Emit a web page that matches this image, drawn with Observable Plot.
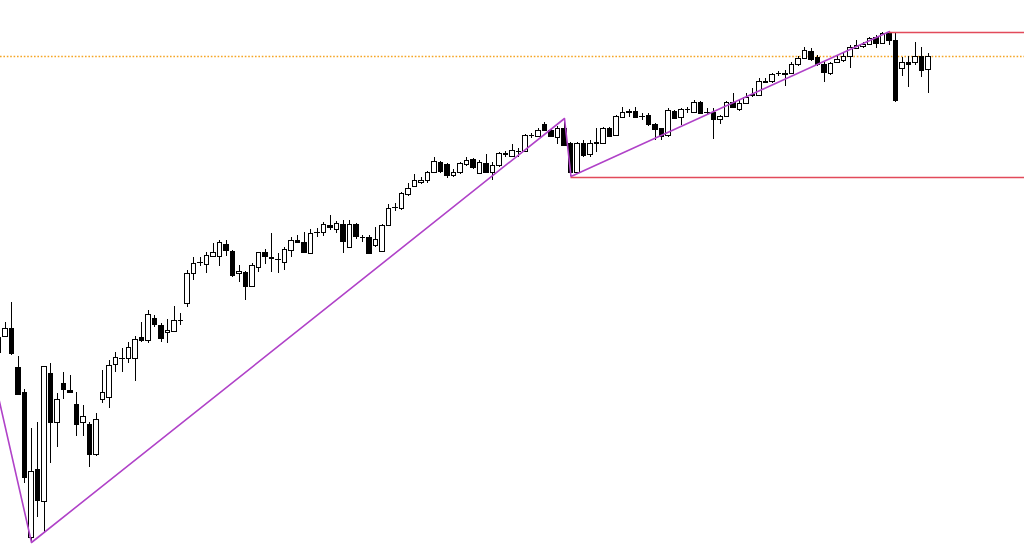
<!DOCTYPE html>
<html>
<head>
<meta charset="utf-8">
<script src="https://cdn.jsdelivr.net/npm/d3@7"></script>
<script src="https://cdn.jsdelivr.net/npm/@observablehq/plot@0.6"></script>
<style>
  html, body { margin: 0; padding: 0; background: #fff; }
  #chart svg { display: block; }
</style>
</head>
<body>
<div id="chart"></div>
<script>
// Daily candles (arbitrary price units), oldest first
const open = [
  248, 264, 272, 233, 208, 63, 131, 99, 227, 178,
  217, 210, 196, 178, 176, 146, 201, 203, 236, 242,
  242, 242, 263, 260, 282, 275, 268, 269, 280, 297,
  327, 338, 336, 344, 344, 356, 349, 327, 328, 314,
  333, 348, 343, 341, 338, 350, 360, 358, 347, 368,
  368, 375, 371, 376, 353, 376, 363, 363, 355, 349,
  375, 393, 392, 406, 414, 418, 420, 428, 438, 436,
  425, 428, 436, 441, 427, 437, 428, 435, 447, 444,
  449, 449, 465, 464, 476, 470, 463, 472, 457, 428,
  457, 446, 457, 457, 472, 465, 483, 488, 489, 484,
  485, 476, 472, 465, 489, 483, 491, 488, 498, 488,
  488, 481, 484, 498, 491, 497, 505, 505, 519, 519,
  527, 527, 527, 536, 542, 549, 543, 536, 527, 538,
  540, 544, 552, 554, 556, 563, 557, 567, 560, 532,
  538, 538, 544, 531
];
const high = [
  265, 278, 298, 244, 211, 172, 178, 234, 237, 207,
  228, 225, 208, 195, 178, 187, 230, 240, 248, 252,
  258, 264, 278, 290, 285, 277, 281, 294, 287, 330,
  343, 343, 348, 357, 360, 360, 350, 335, 329, 337,
  348, 351, 367, 347, 353, 363, 365, 368, 371, 372,
  378, 385, 379, 380, 380, 377, 365, 365, 373, 376,
  396, 397, 408, 417, 426, 423, 429, 443, 439, 437,
  431, 438, 443, 442, 440, 446, 438, 448, 449, 456,
  452, 466, 467, 472, 478, 472, 474, 482, 458, 458,
  460, 460, 472, 473, 473, 485, 493, 491, 493, 487,
  487, 477, 472, 492, 490, 492, 493, 500, 499, 492,
  492, 485, 499, 507, 500, 507, 512, 522, 522, 527,
  529, 530, 538, 544, 553, 552, 545, 538, 538, 545,
  547, 555, 560, 558, 563, 565, 568, 569, 567, 543,
  544, 558, 553, 547
];
const low = [
  247, 263, 245, 206, 117, 58, 83, 67, 137, 153,
  201, 207, 164, 164, 133, 144, 197, 192, 228, 228,
  237, 219, 258, 257, 273, 258, 257, 268, 275, 293,
  320, 334, 327, 343, 334, 344, 323, 318, 300, 313,
  328, 336, 328, 327, 330, 343, 357, 347, 346, 363,
  364, 370, 367, 347, 353, 361, 358, 347, 353, 348,
  374, 389, 390, 404, 413, 416, 417, 427, 427, 422,
  423, 426, 434, 431, 426, 427, 420, 433, 443, 443,
  443, 448, 462, 463, 469, 463, 456, 454, 424, 427,
  443, 443, 448, 457, 463, 464, 483, 483, 482, 480,
  474, 460, 460, 463, 481, 475, 487, 487, 486, 485,
  461, 476, 483, 492, 489, 496, 503, 504, 517, 517,
  524, 514, 527, 534, 541, 539, 534, 518, 525, 537,
  538, 532, 551, 552, 555, 552, 556, 555, 498, 524,
  513, 535, 523, 507
];
const close = [
  263, 272, 247, 206, 123, 129, 100, 234, 178, 201,
  211, 208, 176, 184, 146, 181, 208, 235, 243, 242,
  253, 261, 260, 286, 276, 262, 270, 280, 280, 327,
  337, 338, 345, 348, 358, 350, 325, 329, 314, 335,
  348, 344, 342, 341, 351, 360, 358, 348, 367, 368,
  376, 373, 377, 359, 376, 364, 363, 347, 361, 375,
  392, 393, 407, 412, 420, 420, 428, 439, 429, 425,
  428, 437, 440, 433, 438, 428, 435, 447, 446, 450,
  449, 465, 465, 470, 470, 464, 472, 455, 428, 457,
  445, 457, 458, 472, 464, 484, 488, 489, 483, 484,
  476, 471, 464, 490, 482, 491, 491, 498, 487, 488,
  481, 484, 498, 493, 497, 503, 506, 519, 518, 526,
  527, 526, 536, 542, 550, 541, 536, 528, 537, 541,
  544, 553, 555, 556, 562, 557, 567, 560, 500, 538,
  536, 544, 530, 544
];

// ZigZag pivots (bar index, price); first pivot lies left of the visible window
const zigIndex = [-3, 5, 87, 88, 137];
const zigPrice = [287, 58, 482, 424, 569];

// Horizontal levels
const redStart = [137, 88];
const redLevel = [568, 423];
const dottedLevel = [544];

const candles = open.map((o, i) => ({i, o, h: high[i], l: low[i], c: close[i]}));
const up = candles.filter(d => d.c >= d.o);
const down = candles.filter(d => d.c < d.o);
const zig = zigIndex.map((i, k) => ({i, v: zigPrice[k]}));
const xMin = 0.2308, xMax = 157.77;
const reds = redStart.map((s, k) => ({x1: s, x2: xMax, y: redLevel[k]}));

const half = 0.33;
const bodyTop = d => Math.max(d.o, d.c);
const bodyBot = d => (Math.abs(d.o - d.c) < 0.01 ? Math.max(d.o, d.c) - 0.02 : Math.min(d.o, d.c));

const chart = Plot.plot({
  width: 1024,
  height: 545,
  margin: 0,
  x: {domain: [xMin, xMax], axis: null},
  y: {domain: [55, 600], axis: null},
  marks: [
    Plot.ruleY(dottedLevel, {stroke: "#f5a524", strokeWidth: 1.5, strokeDasharray: "1.6,1.8"}),
    Plot.ruleX(candles, {x: "i", y1: "l", y2: "h", stroke: "#000", strokeWidth: 1, shapeRendering: "crispEdges"}),
    Plot.rect(up, {x1: d => d.i - half, x2: d => d.i + half, y1: bodyBot, y2: bodyTop, fill: "#fff", stroke: "#000", strokeWidth: 1, shapeRendering: "crispEdges"}),
    Plot.rect(down, {x1: d => d.i - half, x2: d => d.i + half, y1: bodyBot, y2: bodyTop, fill: "#000", stroke: "#000", strokeWidth: 1, shapeRendering: "crispEdges"}),
    Plot.line(zig, {x: "i", y: "v", stroke: "#b042c8", strokeWidth: 1.6, clip: true}),
    Plot.ruleY(reds, {x1: "x1", x2: "x2", y: "y", stroke: "#e24a5a", strokeWidth: 1.6})
  ]
});
document.getElementById("chart").append(chart);
</script>
</body>
</html>
